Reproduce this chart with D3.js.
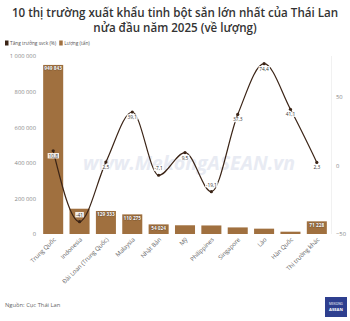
<!DOCTYPE html>
<html><head><meta charset="utf-8">
<script src="https://cdn.jsdelivr.net/npm/d3@7"></script>
<style>
body{margin:0;background:#fff;}
text{font-family:"Open Sans",sans-serif;}
</style></head>
<body>
<svg id="c" width="350" height="321"></svg>
<script>
const categories = ["Trung Quốc","Indonesia","Đài Loan (Trung Quốc)","Malaysia","Nhật Bản","Mỹ","Philippines","Singapore","Lào","Hàn Quốc","Thị trường khác"];
const volume = [949843,142000,129333,110275,54024,49000,48000,37000,30000,13000,71228];
const volumeLabels = ["949 843",null,"129 333","110 275","54 024",null,null,null,null,null,"71 228"];
const growth = [10.8,-41,2.5,39.1,-7.1,9.5,-19.1,37.3,74.4,41.1,2.3];
const growthLabels = ["10,8","-41","2,5","39,1","-7,1","9,5","-19,1","37,3","74,4","41,1","2,3"];
const leftTicks = [0,200000,400000,600000,800000,1000000];
const rightTicks = [-50,0,50];
const title = ["10 thị trường xuất khẩu tinh bột sắn lớn nhất của Thái Lan","nửa đầu năm 2025 (về lượng)"];
const legendItems = [["Tăng trưởng svck (%)","#3b2416"],["Lượng (tấn)","#a0703f"]];

const svg = d3.select("#c");
const L=40,R=330,T=56,B=234;
const x = d3.scaleBand().domain(categories).range([L,R]).paddingInner(0.24).paddingOuter(0.12);
const yL = d3.scaleLinear().domain([0,1000000]).range([B,T]);
const yR = d3.scaleLinear().domain([-50,80]).range([B,T]);
const fmt = d => d3.format(",")(d).replace(/,/g," ");

// title
svg.selectAll("text.title").data(title).join("text").attr("class","title")
  .attr("x",175).attr("y",(d,i)=>17+i*14.5).attr("text-anchor","middle")
  .attr("font-size",11.6).attr("font-weight",600).attr("fill","#333").text(d=>d);

// legend
let lx=5;
legendItems.forEach(([t,c])=>{
  svg.append("rect").attr("x",lx).attr("y",40.5).attr("width",3.5).attr("height",5).attr("fill",c);
  const tx = svg.append("text").attr("x",lx+5).attr("y",45).attr("font-size",4.8).attr("fill","#555").text(t);
  lx += 5 + tx.node().getComputedTextLength() + 3;
});

// watermark
svg.append("text").attr("x",189).attr("y",170).attr("text-anchor","middle")
  .attr("font-size",19.5).attr("font-weight",700).attr("font-style","italic")
  .attr("fill","#e8ebf3").text("www.MekongASEAN.vn");

// right axis line
svg.append("line").attr("x1",R+1.5).attr("x2",R+1.5).attr("y1",T).attr("y2",B).attr("stroke","#eee").attr("stroke-width",0.8);

// left axis
const gl = svg.append("g").attr("transform",`translate(${L},0)`)
  .call(d3.axisLeft(yL).tickValues(leftTicks).tickFormat(fmt).tickSize(0).tickPadding(4));
gl.select(".domain").remove();
gl.selectAll("text").attr("font-size",5.8).attr("fill","#888").attr("font-family","Open Sans");

// right axis
const gr = svg.append("g").attr("transform",`translate(${R},0)`)
  .call(d3.axisRight(yR).tickValues(rightTicks).tickSize(0).tickPadding(6));
gr.select(".domain").remove();
gr.selectAll("text").attr("font-size",5.8).attr("fill","#888").attr("font-family","Open Sans");

// bars
svg.selectAll("rect.bar").data(categories).join("rect").attr("class","bar")
  .attr("x",d=>x(d)).attr("width",x.bandwidth())
  .attr("y",(d,i)=>yL(volume[i])).attr("height",(d,i)=>B-yL(volume[i]))
  .attr("fill","#a0703f");

// bar labels
svg.selectAll("text.bl").data(categories).join("text").attr("class","bl")
  .attr("x",d=>x(d)+x.bandwidth()/2).attr("y",(d,i)=>yL(volume[i])+5.5)
  .attr("text-anchor","middle").attr("font-size",4.8).attr("font-weight",700)
  .attr("fill","#fff").attr("stroke","#5a3e22").attr("stroke-width",0.6).attr("paint-order","stroke")
  .text((d,i)=>volumeLabels[i]||"");

// x labels
svg.selectAll("text.xl").data(categories).join("text").attr("class","xl")
  .attr("transform",d=>`translate(${x(d)+x.bandwidth()/2+3},${B+6}) rotate(-45)`)
  .attr("text-anchor","end").attr("font-size",6).attr("fill","#666").text(d=>d);

// line
const pts = categories.map((c,i)=>[x(c)+x.bandwidth()/2, yR(growth[i])]);
svg.append("path").attr("d",d3.line().curve(d3.curveMonotoneX)(pts))
  .attr("fill","none").attr("stroke","#3b2416").attr("stroke-width",1.2);
svg.selectAll("circle.pt").data(pts).join("circle").attr("class","pt")
  .attr("cx",d=>d[0]).attr("cy",d=>d[1]).attr("r",1.6).attr("fill","#3b2416");

// line labels
const gBg = svg.append("g"), gTx = svg.append("g");
pts.forEach((p,i)=>{
  const ly = p[1] + (growth[i]>=0 ? 7 : -5);
  const t = gTx.append("text").attr("x",p[0]).attr("y",ly).attr("text-anchor","middle")
    .attr("font-size",4.8).attr("fill","#333").text(growthLabels[i]);
  const bb = t.node().getBBox();
  gBg.append("rect").attr("x",bb.x-0.8).attr("y",bb.y+0.3).attr("width",bb.width+1.6).attr("height",bb.height-0.6)
    .attr("fill","#fff").attr("fill-opacity",0.9);
});

// source
svg.append("text").attr("x",5).attr("y",307).attr("font-size",5.8).attr("fill","#666").text("Nguồn: Cục Thái Lan");

// logo
svg.append("rect").attr("x",325).attr("y",297).attr("width",22).attr("height",20).attr("fill","#2e3f8f");
svg.append("text").attr("x",336).attr("y",305).attr("text-anchor","middle").attr("font-size",3.2).attr("fill","#fff").attr("font-family","DejaVu Serif").text("MEKONG");
svg.append("text").attr("x",336).attr("y",311).attr("text-anchor","middle").attr("font-size",4.2).attr("font-weight",700).attr("fill","#fff").attr("font-family","DejaVu Serif").text("ASEAN");
</script>
</body></html>
